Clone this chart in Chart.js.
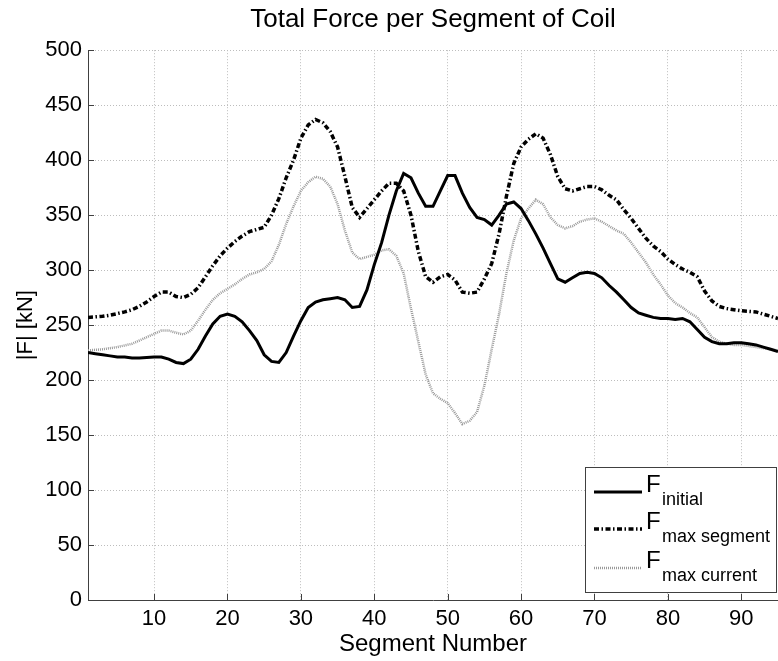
<!DOCTYPE html>
<html>
<head>
<meta charset="utf-8">
<script src="https://cdn.jsdelivr.net/npm/chart.js@4.4.1/dist/chart.umd.min.js"></script>
<style>
html,body{margin:0;padding:0;background:#fff;}
#wrap{width:778px;height:661px;position:relative;}
</style>
</head>
<body>
<div id="wrap"><canvas id="c" width="778" height="661"></canvas></div>
<script>
const segments = [1,2,3,4,5,6,7,8,9,10,11,12,13,14,15,16,17,18,19,20,21,22,23,24,25,26,27,28,29,30,31,32,33,34,35,36,37,38,39,40,41,42,43,44,45,46,47,48,49,50,51,52,53,54,55,56,57,58,59,60,61,62,63,64,65,66,67,68,69,70,71,72,73,74,75,76,77,78,79,80,81,82,83,84,85,86,87,88,89,90,91,92,93,94,95];

const fInitial = [225,224,223,222,221,221,220,220,220.5,221,221,219,216,215,219,228,240,251,258,260,258,253,245,236,223,217,216,225,240,254,266,271,273,274,275,273,266,267,282,305,325,350,372,388,384,370,358,358,372,386,386,370,357,348,346,341,350,360,362,356,345,333,320,306,292,289,293,297,298,297,293,286,280,273,266,261,259,257,256,256,255,256,253,246,239,235,233,233,234,234,233,232,230,228,226];

const fMaxSegment = [257,257.5,258,259,260.5,262,264,267,271,276,280,280,276,275,278,284,294,304,313,320,326,331,335,337,339,350,365,384,400,420,432,437,434,426,412,385,357,348,356,364,372,379,379,372,350,317,294,289,294,296,291,280,279,280,292,306,333,367,397,412,419,424,420,405,385,374,372,374,376,376,373,368,364,355,347,338,329,322,317,310,305,301,298,294,281,272,267,265,264,263,262.5,262,260,258,256];

const fMaxCurrent = [227,227.5,228,229,230,231.5,233,236,239,242,245,245,243,241.5,245,254,264,273,279,283,287,292,296,298,301,308,323,342,358,372,380,385,383,376,360,336,316,310,312,314,318,319,313,297,265,235,205,188,183,179,170,160,163,171,195,228,260,297,327,347,356,364,360,348,341,338,340,344,346,347,344,340,336,333,325,316,307,296,287,277,270,266,261,257,248,239,235,233,232,232,231,230,229,228,227];

const xTicks = [10,20,30,40,50,60,70,80,90];
const yTicks = [0,50,100,150,200,250,300,350,400,450,500];

const seriesNames = ['initial','max segment','max current'];

const FONT = "'Liberation Sans', Arial, Helvetica, sans-serif";
const AXIS = '#404040';
const GRID = '#bdbdbd';

const styles = [
  {color:'#000000', width:3, dash:[]},
  {color:'#000000', width:3.5, dash:[5,2.5,1.5,2.5]},
  {color:'#9a9a9a', width:2.5, dash:[1,1]}
];

function pts(arr){ return arr.map((v,i)=>({x:segments[i], y:v})); }

const inwardTicks = {
  id:'inwardTicks',
  afterDatasetsDraw(chart){
    const {ctx, chartArea:a, scales:{x,y}} = chart;
    ctx.save();
    ctx.strokeStyle = AXIS;
    ctx.lineWidth = 1;
    ctx.setLineDash([]);
    ctx.beginPath();
    xTicks.forEach(v=>{
      const px = Math.round(x.getPixelForValue(v))+0.5;
      ctx.moveTo(px, a.bottom); ctx.lineTo(px, a.bottom-6);
    });
    yTicks.forEach(v=>{
      const py = Math.round(y.getPixelForValue(v))+0.5;
      ctx.moveTo(a.left, py); ctx.lineTo(a.left+6, py);
    });
    ctx.stroke();
    ctx.restore();
  }
};

const customLegend = {
  id:'customLegend',
  afterDraw(chart){
    const {ctx, chartArea:a} = chart;
    const L = a.right-193, T = a.bottom-133, R = a.right-1, B = a.bottom-7;
    ctx.save();
    ctx.fillStyle = '#fff';
    ctx.fillRect(L, T, R-L, B-T);
    ctx.strokeStyle = AXIS;
    ctx.lineWidth = 1;
    ctx.setLineDash([]);
    ctx.strokeRect(L+0.5, T+0.5, R-L-1, B-T-1);
    const rows = [25, 62, 101];
    seriesNames.forEach((name,i)=>{
      const st = styles[i];
      const yy = T + rows[i];
      ctx.beginPath();
      ctx.strokeStyle = st.color;
      ctx.lineWidth = st.width;
      ctx.setLineDash(st.dash);
      ctx.moveTo(L+9, yy); ctx.lineTo(L+57, yy);
      ctx.stroke();
      ctx.setLineDash([]);
      ctx.fillStyle = '#000';
      ctx.textBaseline = 'alphabetic';
      ctx.textAlign = 'left';
      ctx.font = '24px ' + FONT;
      ctx.fillText('F', L+61, yy);
      ctx.font = '18px ' + FONT;
      ctx.fillText(name, L+77, yy+13);
    });
    ctx.restore();
  }
};

new Chart(document.getElementById('c'), {
  type:'line',
  data:{
    datasets:[
      {label:'F initial', data:pts(fInitial), borderColor:styles[0].color, borderWidth:styles[0].width, borderDash:styles[0].dash, pointRadius:0, tension:0, fill:false},
      {label:'F max segment', data:pts(fMaxSegment), borderColor:styles[1].color, borderWidth:styles[1].width, borderDash:styles[1].dash, pointRadius:0, tension:0, fill:false},
      {label:'F max current', data:pts(fMaxCurrent), borderColor:styles[2].color, borderWidth:styles[2].width, borderDash:styles[2].dash, pointRadius:0, tension:0, fill:false}
    ]
  },
  options:{
    responsive:false,
    animation:false,
    layout:{padding:{left:0,right:0,top:0,bottom:0}},
    plugins:{
      legend:{display:false},
      tooltip:{enabled:false},
      title:{display:true, text:'Total Force per Segment of Coil', fullSize:false, color:'#000',
             font:{family:FONT, size:26, weight:'normal'}, padding:{top:4, bottom:15}}
    },
    scales:{
      x:{type:'linear', min:1, max:95,
         afterBuildTicks:(ax)=>{ ax.ticks = xTicks.map(v=>({value:v})); },
         afterFit:(ax)=>{ ax.height = 61; },
         grid:{color:GRID, drawTicks:false, lineWidth:1},
         border:{display:true, color:AXIS, width:1, dash:[1,2]},
         ticks:{color:'#000', font:{family:FONT, size:22}, padding:6, maxRotation:0, autoSkip:false},
         title:{display:true, text:'Segment Number', color:'#000', font:{family:FONT, size:24}, padding:{top:0,bottom:2}}
      },
      y:{type:'linear', min:0, max:500,
         afterBuildTicks:(ax)=>{ ax.ticks = yTicks.map(v=>({value:v})); },
         afterFit:(ax)=>{ ax.width = 88; },
         grid:{color:GRID, drawTicks:false, lineWidth:1},
         border:{display:true, color:AXIS, width:1, dash:[1,2]},
         ticks:{color:'#000', font:{family:FONT, size:22}, padding:6, autoSkip:false},
         title:{display:true, text:'|F| [kN]', color:'#000', font:{family:FONT, size:22}, padding:{top:13,bottom:0}}
      }
    }
  },
  plugins:[inwardTicks, customLegend]
});
</script>
</body>
</html>
